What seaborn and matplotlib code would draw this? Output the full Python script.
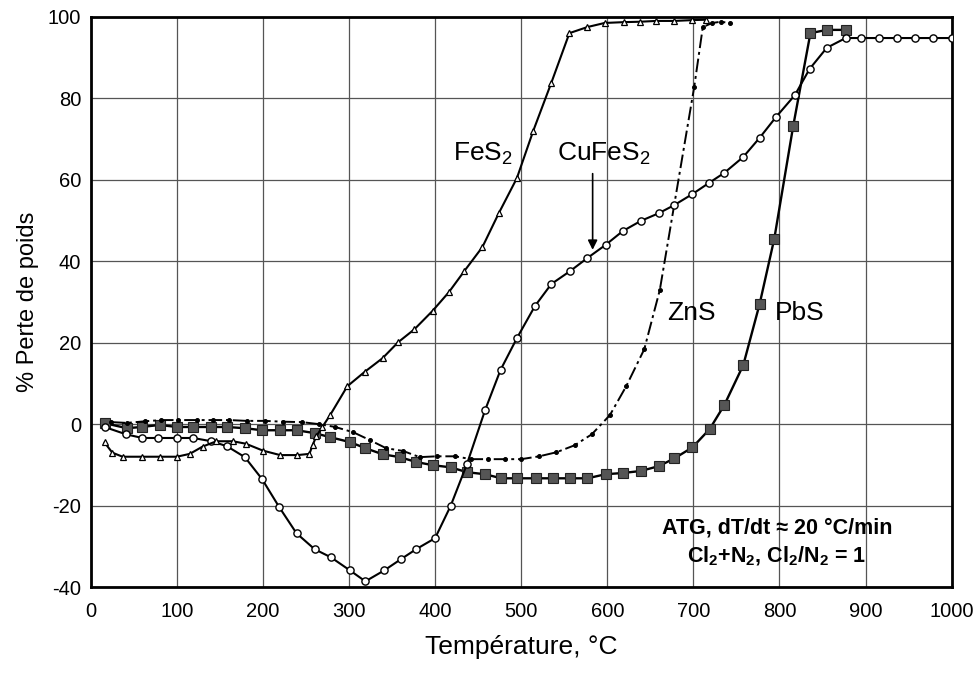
import matplotlib
matplotlib.use("Agg")
import matplotlib.pyplot as plt
import seaborn as sns
import pandas as pd
from matplotlib import font_manager

# ---------------- data ----------------
fes2_T = [16, 25, 37, 60, 80, 100, 115, 130, 146, 165, 180, 200, 220, 240, 254, 258, 262, 269, 278,
          298, 318, 339, 357, 376, 397, 416, 434, 455, 474, 495, 514, 535, 556, 577, 597, 619, 638,
          657, 678, 699, 715]
fes2_v = [-4.5, -7, -8, -8, -8, -8, -7.3, -5.5, -4.2, -4.2, -4.8, -6.5, -7.6, -7.6, -7.3, -5, -3,
          -0.7, 2.2, 9.3, 12.8, 16.2, 20.1, 23.3, 27.8, 32.4, 37.6, 43.5, 51.8, 60.4, 72, 83.8, 96,
          97.5, 98.5, 98.7, 98.8, 99, 99, 99.2, 99.3]

cufes2_T = [16, 41, 60, 78, 100, 119, 140, 158, 179, 199, 219, 239, 260, 279, 301, 319, 341, 360,
            378, 400, 418, 437, 458, 476, 495, 516, 535, 557, 577, 598, 618, 639, 660, 678, 699,
            718, 736, 758, 777, 796, 818, 835, 855, 877, 895, 916, 936, 958, 978, 1000]
cufes2_v = [-0.7, -2.5, -3.4, -3.4, -3.4, -3.4, -4.2, -5.4, -8.1, -13.5, -20.4, -26.8, -30.7,
            -32.7, -35.9, -38.6, -35.9, -33.2, -30.7, -28, -20.1, -9.8, 3.4, 13.3, 21.1, 29, 34.4,
            37.6, 40.8, 44, 47.4, 49.9, 51.8, 53.8, 56.5, 59.2, 61.7, 65.6, 70.3, 75.4, 80.8, 87.2,
            92.4, 94.8, 94.8, 94.8, 94.8, 94.8, 94.8, 94.8]

zns_T = [24, 42, 63, 82, 101, 123, 142, 161, 181, 202, 223, 245, 265, 284, 305, 324, 343, 363,
         382, 402, 423, 442, 461, 481, 500, 521, 541, 562, 582, 603, 622, 643, 661, 701, 711, 722,
         732, 742]
zns_v = [0.5, 0.3, 0.7, 1, 1, 1, 1, 1, 0.8, 0.8, 0.6, 0.5, 0, -0.7, -2, -3.9, -5.9, -6.6, -8.1,
         -7.9, -7.9, -8.6, -8.6, -8.6, -8.6, -7.9, -6.9, -5.2, -2.5, 2.2, 9.3, 18.4, 32.9, 82.8,
         97.5, 98.5, 98.8, 98.5]

pbs_T = [17, 42, 59, 80, 100, 119, 140, 158, 179, 199, 220, 239, 260, 278, 301, 319, 339, 359,
         378, 398, 418, 437, 458, 477, 495, 517, 537, 557, 577, 598, 618, 639, 660, 678, 699, 719,
         736, 758, 777, 794, 816, 836, 855, 877]
pbs_v = [0.2, -1, -0.7, -0.2, -0.7, -0.7, -0.7, -0.7, -1, -1.5, -1.5, -1.5, -2.2, -3.2, -4.4,
         -5.9, -7.4, -8.1, -9.3, -10.1, -10.6, -11.8, -12.3, -13.3, -13.3, -13.3, -13.3, -13.3,
         -13.3, -12.3, -12, -11.5, -10.3, -8.4, -5.7, -1.2, 4.7, 14.5, 29.5, 45.5, 73.2, 96, 96.8,
         96.8]

x_ticks = [0, 100, 200, 300, 400, 500, 600, 700, 800, 900, 1000]
y_ticks = [-40, -20, 0, 20, 40, 60, 80, 100]

x_label = "Température, °C"
y_label = "% Perte de poids"

# ---------------- style ----------------
sns.set_theme(style="white")
names = {f.name for f in font_manager.fontManager.ttflist}
narrow = "Liberation Sans Narrow" if "Liberation Sans Narrow" in names else "Liberation Sans"
plt.rcParams["font.family"] = ["Liberation Sans", "DejaVu Sans"]
plt.rcParams["text.color"] = "black"
plt.rcParams["axes.labelcolor"] = "black"
plt.rcParams["mathtext.fontset"] = "custom"
plt.rcParams["mathtext.rm"] = "Liberation Sans"
plt.rcParams["mathtext.bf"] = "Liberation Sans:bold"

fig = plt.figure(figsize=(9.76, 6.74), dpi=100)
ax = fig.add_axes([0.093, 0.129, 0.882, 0.846])

df_fes2 = pd.DataFrame({"T": fes2_T, "v": fes2_v})
df_cu = pd.DataFrame({"T": cufes2_T, "v": cufes2_v})
df_zn = pd.DataFrame({"T": zns_T, "v": zns_v})
df_pb = pd.DataFrame({"T": pbs_T, "v": pbs_v})

sns.lineplot(data=df_pb, x="T", y="v", ax=ax, sort=False, estimator=None, color="black",
             lw=1.7, marker="s", markersize=6.8, markerfacecolor="#555555",
             markeredgecolor="#222222", markeredgewidth=0.8, zorder=3)
sns.lineplot(data=df_zn, x="T", y="v", ax=ax, sort=False, estimator=None, color="black",
             lw=1.4, linestyle=(0, (7, 2, 1.5, 2)), marker="o", markersize=2.8,
             markerfacecolor="black", markeredgecolor="black", zorder=4)
sns.lineplot(data=df_cu, x="T", y="v", ax=ax, sort=False, estimator=None, color="black",
             lw=1.5, marker="o", markersize=5.2, markerfacecolor="white",
             markeredgecolor="black", markeredgewidth=1.0, zorder=5)
sns.lineplot(data=df_fes2, x="T", y="v", ax=ax, sort=False, estimator=None, color="black",
             lw=1.5, marker="^", markersize=4.5, markerfacecolor="white",
             markeredgecolor="black", markeredgewidth=0.9, zorder=6)

ax.set_xlim(0, 1000)
ax.set_ylim(-40, 100)
ax.set_xticks(x_ticks)
ax.set_yticks(y_ticks)
ax.set_xticklabels([str(t) for t in x_ticks], fontsize=14.5)
ax.set_yticklabels([str(t) for t in y_ticks], fontsize=14.5)
ax.tick_params(axis="both", length=0, colors="black")
ax.tick_params(axis="x", pad=11)
ax.tick_params(axis="y", pad=7)
ax.grid(True, color="#555555", lw=0.9)
ax.set_axisbelow(True)
for s in ax.spines.values():
    s.set_visible(True)
    s.set_color("black")
    s.set_linewidth(2)

ax.set_xlabel(x_label, fontsize=19, family=narrow, labelpad=10)
ax.set_ylabel(y_label, fontsize=17, family=narrow, labelpad=6)

lab_kw = dict(fontsize=19, family=narrow, ha="center", va="center", color="black")
ax.text(455, 66.5, "FeS$_\\mathregular{2}$", **lab_kw)
ax.text(596, 66.5, "CuFeS$_\\mathregular{2}$", **lab_kw)
ax.text(698, 27.3, "ZnS", **lab_kw)
ax.text(823, 27.3, "PbS", **lab_kw)

ax.annotate("", xy=(583, 42.8), xytext=(583, 61.5),
            arrowprops=dict(arrowstyle="-|>", color="black", lw=1.2,
                            mutation_scale=14, shrinkA=0, shrinkB=0))

note_kw = dict(fontsize=15.5, family=narrow, weight="bold", ha="center", va="center",
               color="black")
ax.text(797, -25.5, "ATG, dT/dt ≈ 20 °C/min", **note_kw)
ax.text(797, -32.5, "Cl$_\\mathbf{2}$+N$_\\mathbf{2}$, Cl$_\\mathbf{2}$/N$_\\mathbf{2}$ = 1", **note_kw)

fig.savefig("out.png", dpi=100)
